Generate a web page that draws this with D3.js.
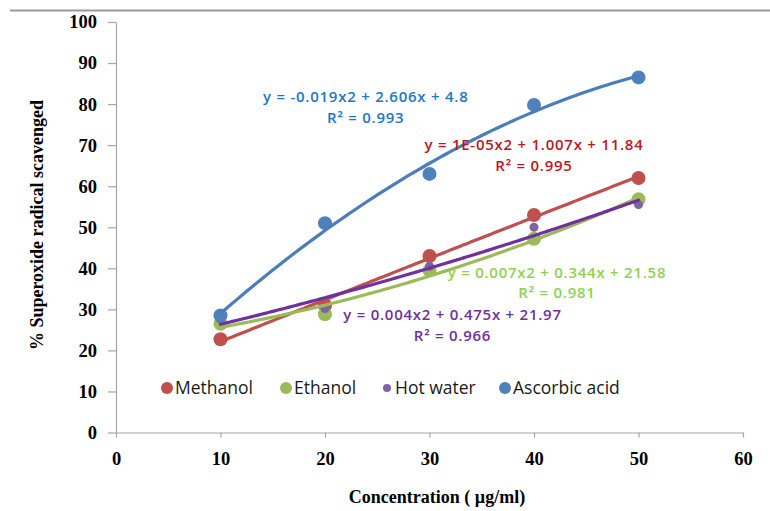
<!DOCTYPE html>
<html>
<head>
  <meta charset="utf-8">
  <script src="https://cdn.jsdelivr.net/npm/d3@7"></script>
  <style>
    body { margin: 0; background: #fff; }
    text.tickLabel, .tick text {
      font-family: "Liberation Serif", "Times New Roman", serif;
      font-weight: 700;
      font-size: 18.5px;
      fill: #000;
    }
    text.axisTitle {
      font-family: "Liberation Serif", "Times New Roman", serif;
      font-weight: 700;
      font-size: 18px;
      fill: #000;
    }
    text.legendText {
      font-family: "Open Sans", sans-serif;
      font-size: 17.5px;
      fill: #1a1a1a;
    }
    text.eq {
      font-family: "Open Sans", sans-serif;
      font-weight: 600;
      font-size: 15px;
      letter-spacing: 0.75px;
    }
    .axis path, .axis line { stroke: #a6a6a6; stroke-width: 1.2; }
  </style>
</head>
<body>
  <svg width="770" height="511"></svg>
  <script>
    // data
    const concentrations = [10, 20, 30, 40, 50];
    const seriesNames = ["Methanol", "Ethanol", "Hot water", "Ascorbic acid"];
    const methanol = [22.7, 31.0, 43.0, 53.0, 62.0];
    const ethanol = [26.5, 28.8, 39.5, 47.2, 56.8];
    const hotWater = [27.6, 30.2, 40.5, 50.0, 55.5];
    const ascorbic = [28.5, 51.0, 63.0, 79.8, 86.5];
    const xTicks = [0, 10, 20, 30, 40, 50, 60];
    const yTicks = [0, 10, 20, 30, 40, 50, 60, 70, 80, 90, 100];
    const equations = [
      "y = 1E-05x2 + 1.007x + 11.84",
      "y = 0.007x2 + 0.344x + 21.58",
      "y = 0.004x2 + 0.475x + 21.97",
      "y = -0.019x2 + 2.606x + 4.8"
    ];
    const rSquared = ["R² = 0.995", "R² = 0.981", "R² = 0.966", "R² = 0.993"];

    const markerColor = ["#C0504D", "#9BBB59", "#8064A2", "#4F81BD"];
    const trendColor = ["#C0504D", "#9BBB59", "#7030A0", "#4A7EBB"];
    const eqColor = ["#C0161E", "#92D050", "#7030A0", "#2078C8"];
    const markerR = [7, 7, 4.5, 7];
    // label anchor (centre x, baseline y of first line) in data units
    const eqPos = [[40.0, 68.7], [42.2, 37.7], [32.2, 27.3], [23.9, 80.4]];

    const allValues = [methanol, ethanol, hotWater, ascorbic];

    const svg = d3.select("svg");
    const x = d3.scaleLinear().domain([0, 60]).range([116, 743]);
    const y = d3.scaleLinear().domain([0, 100]).range([432.5, 22]);

    // thin rule across the top of the figure
    svg.append("line")
      .attr("x1", 10).attr("x2", 770).attr("y1", 10.5).attr("y2", 10.5)
      .attr("stroke", "#999").attr("stroke-width", 2);

    // axes
    svg.append("g")
      .attr("class", "axis xAxis")
      .attr("transform", `translate(0, ${y(0)})`)
      .call(d3.axisBottom(x).tickValues(xTicks).tickSize(5).tickSizeOuter(0).tickPadding(14))
      .selectAll("text").attr("dy", "0.71em");

    svg.append("g")
      .attr("class", "axis yAxis")
      .attr("transform", `translate(${x(0)}, 0)`)
      .call(d3.axisLeft(y).tickValues(yTicks).tickSize(8).tickSizeOuter(0).tickPadding(11));

    svg.selectAll(".tick text").attr("fill", "#000");

    // axis titles
    svg.append("text")
      .attr("class", "axisTitle")
      .attr("x", 437).attr("y", 503)
      .attr("text-anchor", "middle")
      .text("Concentration ( µg/ml)");

    svg.append("text")
      .attr("class", "axisTitle")
      .attr("transform", "translate(43, 225) rotate(-90)")
      .attr("text-anchor", "middle")
      .text("% Superoxide radical scavenged");

    // quadratic least-squares fit, like the spreadsheet trendline
    function quadFit(xs, ys) {
      let s = [0, 0, 0, 0, 0], t = [0, 0, 0];
      xs.forEach((xv, i) => {
        for (let k = 0; k < 5; k++) s[k] += Math.pow(xv, k);
        for (let k = 0; k < 3; k++) t[k] += ys[i] * Math.pow(xv, k);
      });
      const m = [[s[0], s[1], s[2], t[0]], [s[1], s[2], s[3], t[1]], [s[2], s[3], s[4], t[2]]];
      for (let c = 0; c < 3; c++) {
        for (let r = c + 1; r < 3; r++) {
          const f = m[r][c] / m[c][c];
          for (let k = c; k < 4; k++) m[r][k] -= f * m[c][k];
        }
      }
      const b = [0, 0, 0];
      for (let r = 2; r >= 0; r--) {
        let v = m[r][3];
        for (let k = r + 1; k < 3; k++) v -= m[r][k] * b[k];
        b[r] = v / m[r][r];
      }
      return xv => b[0] + b[1] * xv + b[2] * xv * xv;
    }

    const line = d3.line().x(d => x(d[0])).y(d => y(d[1])).curve(d3.curveMonotoneX);
    const sampleX = d3.range(10, 50.5, 0.5);

    // markers
    allValues.forEach((vals, si) => {
      svg.append("g").selectAll("circle")
        .data(vals)
        .enter()
        .append("circle")
        .attr("cx", (d, i) => x(concentrations[i]))
        .attr("cy", d => y(d))
        .attr("r", markerR[si])
        .attr("fill", markerColor[si]);
    });

    // trendlines
    allValues.forEach((vals, si) => {
      const f = quadFit(concentrations, vals);
      svg.append("path")
        .datum(sampleX.map(xv => [xv, f(xv)]))
        .attr("d", line)
        .attr("fill", "none")
        .attr("stroke", trendColor[si])
        .attr("stroke-width", 3.2)
        .attr("stroke-linecap", "round");
    });

    // equation labels
    equations.forEach((eq, si) => {
      const g = svg.append("g").attr("fill", eqColor[si]);
      g.append("text")
        .attr("class", "eq")
        .attr("x", x(eqPos[si][0])).attr("y", y(eqPos[si][1]))
        .attr("text-anchor", "middle")
        .text(eq);
      g.append("text")
        .attr("class", "eq")
        .attr("x", x(eqPos[si][0])).attr("y", y(eqPos[si][1]) + 20.5)
        .attr("text-anchor", "middle")
        .text(rSquared[si]);
    });

    // legend
    const legendX = [167, 286, 387, 505];
    const legend = svg.append("g").attr("transform", "translate(0, 388)");
    seriesNames.forEach((name, si) => {
      legend.append("circle")
        .attr("cx", legendX[si]).attr("cy", 0)
        .attr("r", si === 2 ? 4 : 6)
        .attr("fill", markerColor[si]);
      legend.append("text")
        .attr("class", "legendText")
        .attr("x", legendX[si] + 8).attr("y", 6)
        .text(name);
    });
  </script>
</body>
</html>
